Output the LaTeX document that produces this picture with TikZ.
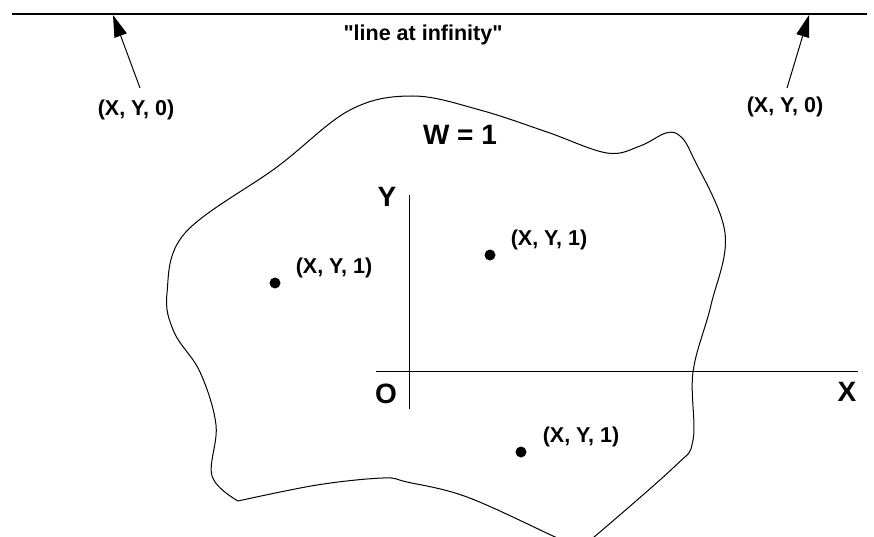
\documentclass[tikz,border=0pt]{standalone}
\usepackage{fontspec}
\setmainfont{Liberation Sans}
\usetikzlibrary{arrows.meta}
\newcommand\sqmark{\XeTeXglyph\XeTeXcharglyph"22\relax}
\tikzset{
  lbl/.style={inner sep=0pt, font=\fontsize{21.5}{24}\selectfont\bfseries},
  biglbl/.style={inner sep=0pt, font=\fontsize{28}{32}\selectfont\bfseries},
  dotnode/.style={circle, fill=black, inner sep=0pt, minimum size=11pt},
  arr/.style={line width=1pt, -{Triangle[length=22pt, width=13pt]}},
  axis/.style={line width=1pt},
  blob/.style={line width=1pt, line join=round},
}
\begin{document}
\begin{tikzpicture}[x=1pt, y=-1pt]
\useasboundingbox (0,0) rectangle (874,537);
% line at infinity
\coordinate (infL) at (12,14);
\coordinate (infR) at (867,14);
\draw[line width=1.3pt] (infL) -- (infR);
\node[lbl] (inf) at (423,35) {\sqmark line at infinity\sqmark};
% arrows
\node[lbl] (w0L) at (136,110) {(X, Y, 0)};
\node[lbl] (w0R) at (785,107) {(X, Y, 0)};
\coordinate (tailL) at (140,88);
\coordinate (tipL) at (113,15);
\coordinate (tailR) at (787,88);
\coordinate (tipR) at (809,15);
\draw[arr] (tailL) -- (tipL);
\draw[arr] (tailR) -- (tipR);
% blob
\draw[blob] plot[smooth, tension=0.6] coordinates {(238,501) (212,476) (216,425) (200,372) (174,332) (167,293) (185,233) (277,167) (350,110) (413,96) (480,110) (547,132) (607,153) (640,146) (666,133) (680,136) (693,157) (725,233) (711,305) (693,372) (693,440) (673,468) (580,549)}
  -- plot[smooth, tension=0.6] coordinates {(580,549) (553,536) (467,497) (407,482) (383,478) (317,485) (238,501)};
\node[biglbl] (w1) at (460,135) {W = 1};
% axes
\coordinate (ytop) at (409,195);
\coordinate (ybot) at (409,409);
\coordinate (xl) at (376,371);
\coordinate (xr) at (858,371);
\draw[axis] (ytop) -- (ybot);
\draw[axis] (xl) -- (xr);
\node[biglbl] (ylab) at (387,197) {Y};
\node[biglbl] (xlab) at (847,392) {X};
\node[biglbl] (olab) at (386,394) {O};
% points
\node[dotnode] (p1) at (275,283) {};
\node[lbl] (l1) at (334,268) {(X, Y, 1)};
\node[dotnode] (p2) at (490,255) {};
\node[lbl] (l2) at (549,240) {(X, Y, 1)};
\node[dotnode] (p3) at (521,452) {};
\node[lbl] (l3) at (581,437) {(X, Y, 1)};
\end{tikzpicture}
\end{document}
